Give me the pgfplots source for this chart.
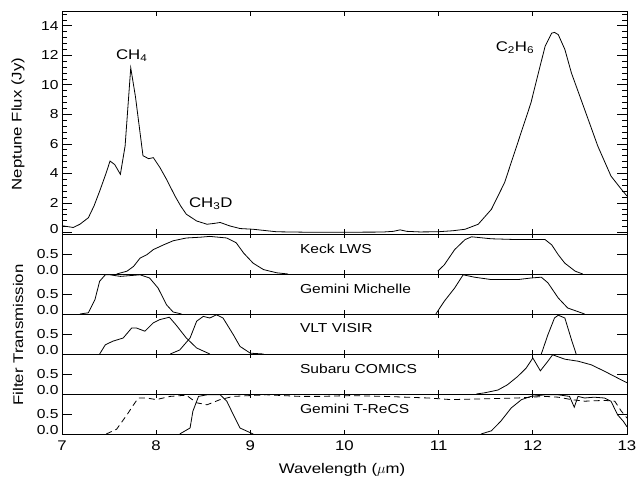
\documentclass[border=0pt]{standalone}
\usepackage{fontspec}
\setmainfont{Liberation Sans}[FakeStretch=1.2]
\usepackage{pgfplots}
\pgfplotsset{compat=1.18}
\begin{document}
\begin{tikzpicture}
\tikzset{lab/.style={anchor=west, font=\fontsize{13}{15}\selectfont}}
\pgfplotsset{
  panel/.style={scale only axis, width=565pt, xmin=7, xmax=13, anchor=south west,
    axis line style={line width=0.9pt},
    every tick/.style={black, line width=0.7pt},
    xtick={8,9,10,11,12}, xticklabels={},
    /pgf/number format/assume math mode=true,
    tick label style={font=\fontsize{13}{15}\selectfont},
    xtick style={/pgfplots/major tick length=4pt},
    ytick style={/pgfplots/major tick length=10pt},
    /pgf/number format/fixed, /pgf/number format/precision=1,
  },
  filt/.style={panel, height=40pt, ymin=0, ymax=1,
    ytick={0.5}, yticklabels={0.5},
    extra y ticks={0}, extra y tick labels={0.0},
    extra y tick style={yticklabel style={yshift=4pt}},
  },
  spec/.style={black, line width=0.8pt, no marks},
}
% Top panel
\begin{axis}[panel, at={(62pt,250pt)}, height=223pt, ymin=-0.1, ymax=15,
  ytick={2,4,6,8,10,12,14},
  minor ytick={0.4,0.8,1.2,1.6,2.4,2.8,3.2,3.6,4.4,4.8,5.2,5.6,6.4,6.8,7.2,7.6,8.4,8.8,9.2,9.6,10.4,10.8,11.2,11.6,12.4,12.8,13.2,13.6,14.4,14.8},
  minor tick length=5pt,
  extra y ticks={0}, extra y tick labels={0},
  extra y tick style={yticklabel style={yshift=3pt}},
  xtick style={/pgfplots/major tick length=5pt},
]
\addplot[spec] coordinates {
(7.00,0.46)(7.06,0.40)(7.12,0.34)(7.19,0.56)(7.28,1.0)(7.34,1.8)(7.40,2.8)(7.47,4.05)(7.51,4.84)(7.56,4.6)(7.62,3.94)(7.67,5.85)(7.70,8.5)(7.73,11.15)(7.78,9.2)(7.86,5.2)(7.92,5.0)(7.97,5.07)(8.04,4.4)(8.11,3.6)(8.20,2.47)(8.26,1.8)(8.32,1.24)(8.43,0.78)(8.54,0.56)(8.62,0.62)(8.68,0.68)(8.78,0.45)(8.89,0.27)(9.03,0.22)(9.28,0.05)(9.6,0.02)(10.0,0.02)(10.4,0.03)(10.52,0.08)(10.59,0.18)(10.66,0.08)(10.8,0.04)(10.99,0.05)(11.15,0.12)(11.28,0.22)(11.42,0.56)(11.56,1.57)(11.70,3.38)(11.84,6.08)(11.98,8.78)(12.05,10.58)(12.13,12.6)(12.20,13.5)(12.23,13.55)(12.27,13.4)(12.34,12.4)(12.41,10.8)(12.55,8.33)(12.69,5.85)(12.83,3.82)(12.94,2.93)(13.0,2.47)
};
\node[font=\fontsize{14}{16}\selectfont] at (axis cs:7.74,12.0) {CH\textsubscript{4}};
\node[font=\fontsize{14}{16}\selectfont] at (axis cs:8.58,1.98) {CH\textsubscript{3}D};
\node[font=\fontsize{14}{16}\selectfont] at (axis cs:11.81,12.5) {C\textsubscript{2}H\textsubscript{6}};
\end{axis}
% Keck LWS
\begin{axis}[filt, at={(62pt,210pt)}]
\addplot[spec] coordinates {(7.58,0)(7.69,0.07)(7.76,0.19)(7.83,0.4)(7.90,0.48)(7.97,0.61)(8.08,0.73)(8.18,0.83)(8.32,0.9)(8.47,0.92)(8.57,0.94)(8.75,0.9)(8.85,0.78)(8.93,0.52)(9.03,0.27)(9.14,0.11)(9.28,0.03)(9.40,0)};
\addplot[spec] coordinates {(10.99,0.07)(11.06,0.23)(11.17,0.61)(11.28,0.86)(11.35,0.93)(11.56,0.88)(11.84,0.86)(12.13,0.86)(12.20,0.73)(12.27,0.48)(12.34,0.27)(12.45,0.07)(12.53,0)};
\node[lab] at (axis cs:9.49,0.64) {Keck LWS};
\end{axis}
% Gemini Michelle
\begin{axis}[filt, at={(62pt,170pt)}]
\addplot[spec] coordinates {(7.19,0)(7.28,0.03)(7.35,0.36)(7.40,0.82)(7.46,0.98)(7.51,0.98)(7.62,0.94)(7.83,0.98)(7.93,0.9)(8.02,0.65)(8.11,0.23)(8.18,0.05)(8.27,0)};
\addplot[spec] coordinates {(10.97,0)(11.06,0.32)(11.17,0.65)(11.26,0.98)(11.38,0.92)(11.56,0.86)(11.84,0.86)(11.98,0.9)(12.09,0.92)(12.16,0.78)(12.27,0.4)(12.37,0.15)(12.55,0)};
\node[lab] at (axis cs:9.49,0.64) {Gemini Michelle};
\end{axis}
% VLT VISIR
\begin{axis}[filt, at={(62pt,130pt)}]
\addplot[spec] coordinates {(7.40,0)(7.46,0.23)(7.54,0.32)(7.65,0.4)(7.74,0.65)(7.79,0.65)(7.88,0.57)(7.97,0.78)(8.04,0.86)(8.14,0.92)(8.21,0.73)(8.32,0.4)(8.43,0.15)(8.57,0)};
\addplot[spec] coordinates {(8.15,0)(8.25,0.1)(8.36,0.4)(8.43,0.82)(8.50,0.94)(8.57,0.9)(8.64,0.98)(8.71,0.9)(8.82,0.48)(8.89,0.19)(9.0,0.02)(9.14,0)};
\addplot[spec] coordinates {(12.09,0)(12.16,0.48)(12.23,0.9)(12.27,0.97)(12.34,0.9)(12.41,0.36)(12.46,0)};
\node[lab] at (axis cs:9.49,0.64) {VLT VISIR};
\end{axis}
% Subaru COMICS
\begin{axis}[filt, at={(62pt,90pt)}]
\addplot[spec] coordinates {(11.40,0)(11.49,0.03)(11.63,0.1)(11.73,0.23)(11.84,0.44)(11.93,0.65)(12.0,0.9)(12.08,0.58)(12.16,0.82)(12.21,0.98)(12.34,0.87)(12.48,0.82)(12.62,0.73)(12.76,0.57)(12.90,0.4)(13.0,0.28)};
\node[lab] at (axis cs:9.49,0.62) {Subaru COMICS};
\end{axis}
% Gemini T-ReCS
\begin{axis}[filt, at={(62pt,50pt)}, xtick={7,8,9,10,11,12,13}, xticklabels={7,8,9,10,11,12,13},
  xticklabel style={font=\fontsize{14}{16}\selectfont, yshift=-3pt}]
\addplot[spec] coordinates {(8.25,0)(8.36,0.15)(8.39,0.57)(8.45,0.94)(8.54,0.98)(8.68,0.98)(8.75,0.82)(8.82,0.48)(8.89,0.15)(9.03,0)};
\addplot[spec] coordinates {(11.45,0)(11.56,0.08)(11.66,0.32)(11.77,0.65)(11.88,0.86)(11.98,0.94)(12.13,0.98)(12.27,0.98)(12.39,0.94)(12.44,0.67)(12.48,0.94)(12.55,0.9)(12.65,0.92)(12.76,0.9)(12.83,0.82)(12.90,0.48)(12.96,0.32)(13.0,0.18)};
\addplot[spec, dashed, dash pattern=on 6pt off 4pt] coordinates {(7.47,0)(7.58,0.12)(7.69,0.48)(7.76,0.73)(7.81,0.9)(7.90,0.9)(8.0,0.86)(8.15,0.94)(8.32,0.97)(8.43,0.78)(8.54,0.73)(8.68,0.86)(8.82,0.94)(9.17,0.98)(9.53,0.94)(9.72,0.94)(10.07,0.96)(10.43,0.94)(10.89,0.9)(11.13,0.86)(11.49,0.88)(11.84,0.9)(12.13,0.94)(12.27,0.92)(12.41,0.86)(12.55,0.82)(12.76,0.84)(12.87,0.82)(12.94,0.57)(13.0,0.4)};
\node[lab] at (axis cs:9.49,0.64) {Gemini T-ReCS};
\end{axis}
\node[rotate=90, font=\fontsize{14}{16}\selectfont] at (18pt,360pt) {Neptune Flux (Jy)};
\node[rotate=90, font=\fontsize{14}{16}\selectfont] at (18pt,149pt) {Filter Transmission};
\node[font=\fontsize{14}{16}\selectfont] at (342pt,14pt) {Wavelength ($\mu$m)};
\pgfresetboundingbox
\path[use as bounding box] (0pt,0pt) rectangle (638pt,484pt);
\end{tikzpicture}
\end{document}
